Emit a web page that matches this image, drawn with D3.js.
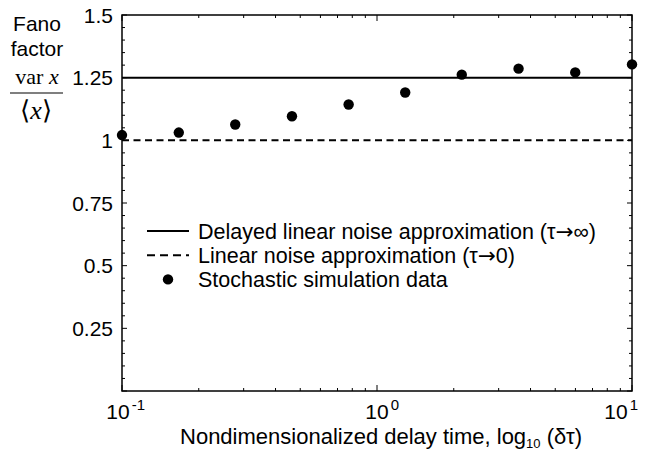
<!DOCTYPE html>
<html><head><meta charset="utf-8">
<script src="https://cdn.jsdelivr.net/npm/d3@7"></script>
<style>body{margin:0;background:#fff}svg{display:block}text{font-family:"Liberation Sans",Arial,sans-serif;fill:#000}</style>
</head><body><svg id="c" width="652" height="450"></svg>
<script>
const delayTimes = [0.1, 0.167, 0.278, 0.464, 0.774, 1.29, 2.15, 3.59, 5.99, 10];
const fanoSim = [1.021, 1.031, 1.063, 1.096, 1.143, 1.191, 1.262, 1.286, 1.271, 1.303];
const dlnaValue = 1.25;
const lnaValue = 1.0;
const yTicks = [0.25, 0.5, 0.75, 1, 1.25, 1.5];
const yTickLabels = ["0.25", "0.5", "0.75", "1", "1.25", "1.5"];
const xTicks = [0.1, 1, 10];
const xTickExps = ["-1", "0", "1"];
const legendLabels = ["Delayed linear noise approximation (\u03C4\u2192\u221E)", "Linear noise approximation (\u03C4\u21920)", "Stochastic simulation data"];

const FS = 21;
const svg = d3.select("#c");
const L = 122, R = 632, T = 15, B = 391;
const x = d3.scaleLog().domain([0.1, 10]).range([L, R]);
const y = d3.scaleLinear().domain([0, 1.5]).range([B, T]);

// minor/major ticks (inward, all four sides)
const g = svg.append("g").attr("stroke", "#000").attr("stroke-width", 1);
d3.range(0, 1.5001, 0.05).forEach(v => {
  const major = Math.abs(v / 0.25 - Math.round(v / 0.25)) < 1e-6;
  const len = major ? 5 : 3;
  g.append("line").attr("x1", L).attr("x2", L + len).attr("y1", y(v)).attr("y2", y(v));
  g.append("line").attr("x1", R).attr("x2", R - len).attr("y1", y(v)).attr("y2", y(v));
});
const xMinor = [];
[0.1, 1].forEach(d => { for (let k = 1; k <= 9; k++) xMinor.push(d * k); });
xMinor.push(10);
xMinor.forEach(v => {
  const major = xTicks.some(t => Math.abs(t - v) < 1e-9);
  const len = major ? 6 : 3;
  g.append("line").attr("x1", x(v)).attr("x2", x(v)).attr("y1", B).attr("y2", B - len);
  g.append("line").attr("x1", x(v)).attr("x2", x(v)).attr("y1", T).attr("y2", T + len);
});

// reference lines
svg.append("line").attr("x1", L).attr("x2", R).attr("y1", y(dlnaValue)).attr("y2", y(dlnaValue))
  .attr("stroke", "#000").attr("stroke-width", 2);
svg.append("line").attr("x1", L).attr("x2", R).attr("y1", y(lnaValue)).attr("y2", y(lnaValue))
  .attr("stroke", "#000").attr("stroke-width", 2).attr("stroke-dasharray", "7,4.5");

// frame
svg.append("rect").attr("x", L).attr("y", T).attr("width", R - L).attr("height", B - T)
  .attr("fill", "none").attr("stroke", "#000").attr("stroke-width", 1.5);

// data points
svg.selectAll("circle.pt").data(delayTimes).enter().append("circle").attr("class", "pt")
  .attr("cx", d => x(d)).attr("cy", (d, i) => y(fanoSim[i])).attr("r", 5.2).attr("fill", "#000");

// y tick labels
svg.selectAll("text.yt").data(yTicks).enter().append("text").attr("class", "yt")
  .attr("x", L - 9).attr("y", d => y(d) + 7.5).attr("text-anchor", "end")
  .attr("font-size", FS).text((d, i) => yTickLabels[i]);

// x tick labels
xTicks.forEach((t, i) => {
  const tx = svg.append("text").attr("y", 419).attr("font-size", 21);
  tx.append("tspan").attr("class", "base").text("10");
  tx.append("tspan").attr("dy", -9).attr("dx", 2).attr("font-size", 15).text(xTickExps[i]);
  const w = tx.node().getComputedTextLength();
  const bw = tx.select(".base").node().getComputedTextLength();
  let x0 = x(t) - bw / 2;
  if (i === 0) x0 -= 4;
  if (x0 + w > 636) x0 = 636 - w;
  tx.attr("x", x0);
});

// x axis title
const xt = svg.append("text").attr("x", (L + R) / 2 + 4).attr("y", 444).attr("text-anchor", "middle").attr("font-size", 22);
xt.append("tspan").text("Nondimensionalized delay time, log");
xt.append("tspan").attr("dy", 3.5).attr("font-size", 13).text("10");
xt.append("tspan").attr("dy", -3.5).text(" (\u03B4\u03C4)");

// y axis title
svg.append("text").attr("x", 37).attr("y", 31).attr("text-anchor", "middle").attr("font-size", FS).text("Fano");
svg.append("text").attr("x", 37).attr("y", 56).attr("text-anchor", "middle").attr("font-size", FS).text("factor");
const vt = svg.append("text").attr("x", 37).attr("y", 84).attr("text-anchor", "middle")
  .style("font-family", "'Liberation Serif','Times New Roman',serif").attr("font-size", 22);
vt.append("tspan").text("var ");
vt.append("tspan").attr("font-style", "italic").text("x");
svg.append("line").attr("x1", 10).attr("x2", 63).attr("y1", 93).attr("y2", 93).attr("stroke", "#000").attr("stroke-width", 1.2);
const bt = svg.append("text").attr("x", 36).attr("y", 119).attr("text-anchor", "middle")
  .style("font-family", "'Liberation Serif','Times New Roman',serif").attr("font-size", 26);
bt.append("tspan").text("\u27E8");
bt.append("tspan").attr("font-style", "italic").text("x");
bt.append("tspan").text("\u27E9");

// legend
const lg = svg.append("g");
const ly = [231, 255.2, 279.4];
lg.append("line").attr("x1", 147).attr("x2", 189).attr("y1", ly[0]).attr("y2", ly[0]).attr("stroke", "#000").attr("stroke-width", 2);
lg.append("line").attr("x1", 147).attr("x2", 189).attr("y1", ly[1]).attr("y2", ly[1]).attr("stroke", "#000").attr("stroke-width", 2).attr("stroke-dasharray", "8,5");
lg.append("circle").attr("cx", 168).attr("cy", ly[2]).attr("r", 5.2).attr("fill", "#000");
legendLabels.forEach((s, i) => {
  const t = lg.append("text").attr("x", 198).attr("y", ly[i] + 7.8).attr("font-size", 21.5);
  // split so the arrow can use a font with a full-width arrow glyph
  s.split(/(\u2192)/).forEach(part => {
    if (part === "\u2192") t.append("tspan").style("font-family", "'DejaVu Sans'").text(part);
    else if (part.length) t.append("tspan").text(part);
  });
});
</script></body></html>
